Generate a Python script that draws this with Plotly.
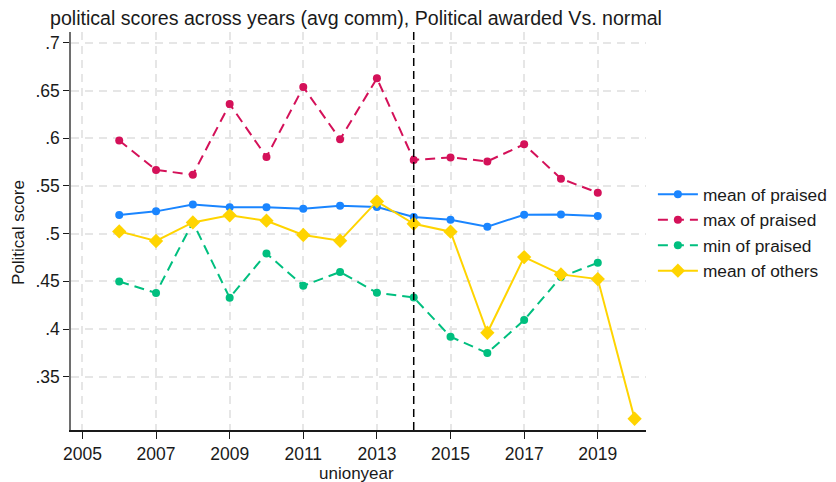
import plotly.graph_objects as go

years = [2006, 2007, 2008, 2009, 2010, 2011, 2012, 2013, 2014, 2015, 2016, 2017, 2018, 2019]
years_others = years + [2020]

mean_praised = [.5196, .5234, .5307, .5276, .5276, .5262, .5293, .5280, .5175, .5147, .5073, .5199, .5202, .5185]
max_praised = [.5978, .5668, .5618, .6360, .5804, .6538, .5989, .6629, .5773, .5800, .5758, .5937, .5577, .5430]
min_praised = [.4499, .4378, .5120, .4328, .4793, .4454, .4598, .4381, .4331, .3919, .3748, .4094, .4546, .4695]
mean_others = [.5024, .4923, .5118, .5192, .5136, .4986, .4926, .5338, .5104, .5021, .3961, .4755, .4573, .4524, .3059]

x_ticks = [2005, 2007, 2009, 2011, 2013, 2015, 2017, 2019]
y_ticks = [.35, .4, .45, .5, .55, .6, .65, .7]
y_labels = [".35", ".4", ".45", ".5", ".55", ".6", ".65", ".7"]
cutoff_year = 2014

FONT = "Liberation Sans, Arial, sans-serif"
W, H = 828, 474  # page body has an 8px margin

fig = go.Figure()
fig.add_trace(go.Scatter(x=years, y=mean_praised, name="mean of praised", mode="lines+markers",
                         line=dict(color="#1a85ff", width=2),
                         marker=dict(symbol="circle", size=8, color="#1a85ff")))
fig.add_trace(go.Scatter(x=years, y=max_praised, name="max of praised", mode="lines+markers",
                         line=dict(color="#d41159", width=2, dash="10px,6px"),
                         marker=dict(symbol="circle", size=8, color="#d41159")))
fig.add_trace(go.Scatter(x=years, y=min_praised, name="min of praised", mode="lines+markers",
                         line=dict(color="#00bf7f", width=2, dash="10px,6px"),
                         marker=dict(symbol="circle", size=8, color="#00bf7f")))
fig.add_trace(go.Scatter(x=years_others, y=mean_others, name="mean of others", mode="lines+markers",
                         line=dict(color="#ffd400", width=2),
                         marker=dict(symbol="diamond", size=11, color="#ffd400")))

fig.add_shape(type="line", xref="x", yref="paper", x0=cutoff_year, x1=cutoff_year, y0=0, y1=1,
              line=dict(color="black", width=1.5, dash="8px,5px"))

fig.add_annotation(text="unionyear", xref="paper", x=0.497, yref="paper", y=-32/398,
                   xanchor="center", yanchor="top", showarrow=False,
                   font=dict(family=FONT, size=17, color="#1a1a1a"))
fig.add_annotation(text="Political score", textangle=-90, xref="paper", x=-52/575,
                   yref="paper", y=0.495, xanchor="center", yanchor="middle", showarrow=False,
                   font=dict(family=FONT, size=17, color="#1a1a1a"))

fig.update_layout(
    width=W, height=H,
    margin=dict(l=63, r=190, t=24, b=52, autoexpand=False),
    paper_bgcolor="white", plot_bgcolor="white",
    font=dict(family=FONT, size=17, color="#1a1a1a"),
    title=dict(text="political scores across years (avg comm), Political awarded Vs. normal",
               xref="container", x=42/W, xanchor="left",
               yref="container", y=1-10/H, yanchor="middle",
               font=dict(family=FONT, size=19.6, color="#1a1a1a")),
    showlegend=True,
    legend=dict(x=1.012, xanchor="left", y=0.637, yanchor="top",
                font=dict(family=FONT, size=17.3, color="#1a1a1a"),
                bgcolor="rgba(0,0,0,0)", tracegroupgap=0, itemwidth=40),
    xaxis=dict(range=[2004.69, 2020.31], tickvals=x_ticks, ticktext=[str(v) for v in x_ticks],
               automargin=False,
               showline=True, linecolor="#1a1a1a", linewidth=1.5,
               ticks="outside", ticklen=7, tickwidth=1.3, tickcolor="#1a1a1a",
               showgrid=True, gridcolor="#e6e6e6", gridwidth=1.5, griddash="8px,6px",
               zeroline=False,
               tickfont=dict(family=FONT, size=17.5)),
    yaxis=dict(range=[0.2941, 0.7115], tickvals=y_ticks, ticktext=y_labels,
               automargin=False,
               showline=True, linecolor="#6e6e6e", linewidth=1.5,
               ticks="outside", ticklen=6, tickwidth=1.3, tickcolor="#1a1a1a",
               showgrid=True, gridcolor="#e6e6e6", gridwidth=1.5, griddash="8px,6px",
               zeroline=False,
               tickfont=dict(family=FONT, size=17.5)),
)

fig.write_html("out.html")
